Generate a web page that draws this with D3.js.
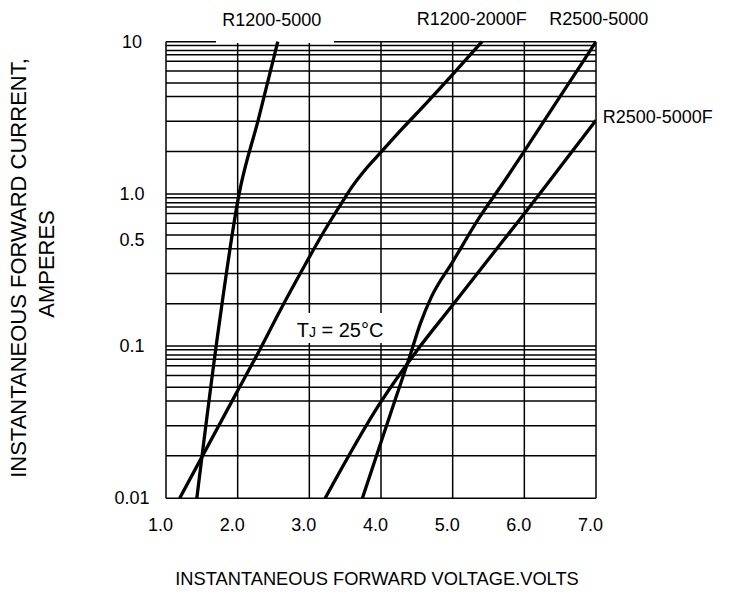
<!DOCTYPE html>
<html>
<head>
<meta charset="utf-8">
<script src="https://cdn.jsdelivr.net/npm/d3@7"></script>
<style>
  html, body { margin: 0; padding: 0; background: #ffffff; }
  svg text { font-family: "Liberation Sans", Arial, sans-serif; fill: #000000; }
</style>
</head>
<body>
<svg id="chart" width="731" height="598"></svg>
<script>
// axis ticks
const xTicks = [1, 2, 3, 4, 5, 6, 7];
const xTickLabels = ["1.0", "2.0", "3.0", "4.0", "5.0", "6.0", "7.0"];
const yTicks = [10, 1, 0.5, 0.1, 0.01];
const yTickLabels = ["10", "1.0", "0.5", "0.1", "0.01"];
const yDecades = [0.01, 0.1, 1];
const gridMults = [1.9, 3.0, 4.36, 5.36, 6.42, 7.43, 8.2, 8.75, 9.45];

// curves: [forward voltage V, forward current A]
const seriesNames = ["R1200-5000", "R1200-2000F", "R2500-5000", "R2500-5000F"];
const r1200_5000 = [[1.43, 0.01], [1.73, 0.127], [2.02, 1.0], [2.29, 3.1], [2.56, 10]];
const r1200_2000F = [[1.19, 0.01], [1.97, 0.048], [2.3, 0.093], [2.6, 0.174], [2.9, 0.316], [3.2, 0.562],
  [3.45, 0.871], [3.6, 1.12], [3.8, 1.48], [4.0, 1.88], [4.3, 2.69], [4.64, 3.98], [5.01, 6.17], [5.41, 10]];
const r2500_5000 = [[3.74, 0.01], [3.98, 0.0219], [4.2, 0.0447], [4.4, 0.0851], [4.55, 0.141], [4.7, 0.209],
  [5.0, 0.358], [5.38, 0.708], [5.73, 1.23], [6.0, 1.91], [6.5, 4.37], [7.0, 10]];
const r2500_5000F = [[3.22, 0.01], [3.98, 0.0417], [4.5, 0.0933], [5.0, 0.186], [5.5, 0.372], [6.0, 0.741],
  [6.5, 1.5], [7.0, 3.05]];
const seriesData = [r1200_5000, r1200_2000F, r2500_5000, r2500_5000F];

const svg = d3.select("#chart");
const plot = { left: 166, right: 596, top: 41.7, bottom: 498.3 };
const fontSize = 18;

const x = d3.scaleLinear().domain([1, 7]).range([plot.left, plot.right]);
const y = d3.scaleLog().domain([0.01, 10]).range([plot.bottom, plot.top]);

svg.append("rect").attr("width", 731).attr("height", 598).attr("fill", "#ffffff");

svg.append("clipPath").attr("id", "plotClip")
    .append("rect")
    .attr("x", plot.left).attr("y", plot.top - 2)
    .attr("width", plot.right - plot.left).attr("height", plot.bottom - plot.top + 2);

// grid
let gridValues = [];
yDecades.forEach(d => {
    gridValues.push(d);
    gridMults.forEach(m => gridValues.push(d * m));
});
gridValues.push(10);

let g_grid = svg.append("g").attr("stroke", "#000000").attr("stroke-width", 1.5);
g_grid.selectAll("line.h")
    .data(gridValues)
    .enter()
    .append("line")
    .attr("class", "h")
    .attr("x1", plot.left).attr("x2", plot.right)
    .attr("y1", d => y(d)).attr("y2", d => y(d));
g_grid.selectAll("line.v")
    .data(xTicks)
    .enter()
    .append("line")
    .attr("class", "v")
    .attr("x1", d => x(d)).attr("x2", d => x(d))
    .attr("y1", plot.top).attr("y2", plot.bottom);

// white gaps in the artwork (top edge under first label, box behind T_J)
svg.append("rect").attr("x", 216).attr("y", 30).attr("width", 118).attr("height", 13).attr("fill", "#ffffff");
svg.append("rect").attr("x", 288).attr("y", 313).attr("width", 106).attr("height", 30).attr("fill", "#ffffff");

// curves
const line = d3.line()
    .x(d => x(d[0]))
    .y(d => y(d[1]))
    .curve(d3.curveMonotoneX);

svg.append("g")
    .attr("clip-path", "url(#plotClip)")
    .selectAll("path")
    .data(seriesData)
    .enter()
    .append("path")
    .attr("d", line)
    .attr("fill", "none")
    .attr("stroke", "#000000")
    .attr("stroke-width", 3.3)
    .attr("stroke-linejoin", "round");

// tick labels
svg.append("g")
    .selectAll("text")
    .data(xTicks)
    .enter()
    .append("text")
    .attr("x", d => x(d) - 5.5)
    .attr("y", 531)
    .attr("text-anchor", "middle")
    .style("font-size", fontSize + "px")
    .text((d, i) => xTickLabels[i]);

svg.append("g")
    .selectAll("text")
    .data(yTicks)
    .enter()
    .append("text")
    .attr("x", 132)
    .attr("y", d => y(d) + 6)
    .attr("text-anchor", "middle")
    .style("font-size", fontSize + "px")
    .text((d, i) => yTickLabels[i]);

// series labels
let g_labels = svg.append("g").style("font-size", "18px");
g_labels.append("text").attr("x", 271.7).attr("y", 26).attr("text-anchor", "middle").text(seriesNames[0]);
g_labels.append("text").attr("x", 471.8).attr("y", 25).attr("text-anchor", "middle").text(seriesNames[1]);
g_labels.append("text").attr("x", 598.7).attr("y", 25).attr("text-anchor", "middle").text(seriesNames[2]);
g_labels.append("text").attr("x", 602.7).attr("y", 123).attr("text-anchor", "start").text(seriesNames[3]);

// T_J
let tj = svg.append("text")
    .attr("x", 296.7)
    .attr("y", 336.7)
    .style("font-size", "20px");
tj.append("tspan").text("T");
tj.append("tspan").style("font-size", "14px").text("J");
tj.append("tspan").text(" = 25°C");

// axis titles
svg.append("text")
    .attr("x", 377)
    .attr("y", 585)
    .attr("text-anchor", "middle")
    .style("font-size", "18.3px")
    .text("INSTANTANEOUS FORWARD VOLTAGE.VOLTS");

let g_ytitle = svg.append("g").style("font-size", "22px").attr("text-anchor", "middle");
g_ytitle.append("text")
    .attr("transform", "translate(26,268) rotate(-90)")
    .text("INSTANTANEOUS FORWARD CURRENT,");
g_ytitle.append("text")
    .attr("transform", "translate(53.5,264) rotate(-90)")
    .text("AMPERES");
</script>
</body>
</html>
